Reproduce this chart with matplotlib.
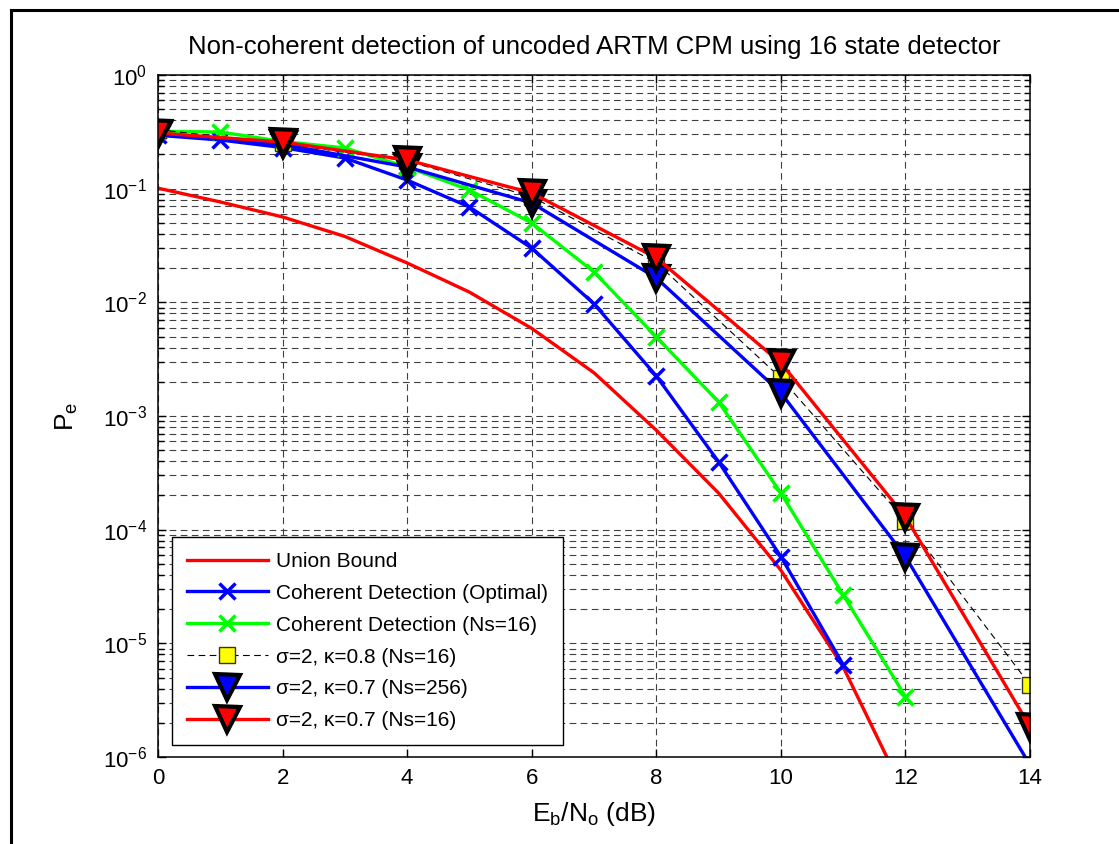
import numpy as np
import matplotlib
matplotlib.use('Agg')
import matplotlib.pyplot as plt
from matplotlib.lines import Line2D

plt.rcParams['font.family'] = ['Liberation Sans', 'DejaVu Sans']
plt.rcParams['mathtext.fontset'] = 'custom'
plt.rcParams['mathtext.rm'] = 'Liberation Sans'
plt.rcParams['mathtext.it'] = 'Liberation Sans'
plt.rcParams['mathtext.bf'] = 'Liberation Sans:bold'
plt.rcParams['axes.unicode_minus'] = False

# Eb/No (dB) grids used by each curve
eb_union = [0, 1, 2, 3, 4, 5, 6, 7, 8, 9, 10, 11, 12]
eb_opt = [0, 1, 2, 3, 4, 5, 6, 7, 8, 9, 10, 11]
eb_ns16 = [0, 1, 2, 3, 4, 5, 6, 7, 8, 9, 10, 11, 12]
eb_even = [0, 2, 4, 6, 8, 10, 12, 14]

# error probabilities
pe_union = [0.101, 0.0764, 0.0564, 0.038, 0.0222, 0.0123, 0.0059, 0.0024,
            7.5e-4, 2.1e-4, 4.4e-5, 6.2e-6, 4.6e-7]
pe_opt = [0.295, 0.268, 0.23, 0.186, 0.119, 0.069, 0.030, 0.0097,
          2.25e-3, 3.95e-4, 5.8e-5, 6.5e-6]
pe_ns16 = [0.32, 0.315, 0.26, 0.228, 0.155, 0.0974, 0.0499, 0.0185,
           4.97e-3, 1.33e-3, 2.1e-4, 2.67e-5, 3.4e-6]
pe_k08 = [0.33, 0.25, 0.175, 0.085, 0.0223, 2.16e-3, 1.2e-4, 4.3e-6]
pe_k07_256 = [0.30, 0.245, 0.155, 0.0748, 0.0164, 1.6e-3, 5.8e-5, 8.5e-7]
pe_k07_16 = [0.309, 0.257, 0.179, 0.0917, 0.0246, 2.93e-3, 1.3e-4, 1.85e-6]

labels = ['Union Bound',
          'Coherent Detection (Optimal)',
          'Coherent Detection (Ns=16)',
          'σ=2, κ=0.8 (Ns=16)',
          'σ=2, κ=0.7 (Ns=256)',
          'σ=2, κ=0.7 (Ns=16)']

ymin, ymax = 1e-6, 1.0

fig = plt.figure(figsize=(11.19, 8.44), dpi=100)
ax = fig.add_axes([158 / 1119, 1 - 757 / 844, 872 / 1119, 682 / 844])

def visible(y):
    # matlab does not draw markers that fall outside the axes
    return [i for i, v in enumerate(y) if ymin <= v <= ymax]

lw = 2.4
ax.plot(eb_union, pe_union, color='#ff0000', lw=lw, label=labels[0])
ax.plot(eb_opt, pe_opt, color='#0000ff', lw=lw, marker='x', ms=12, mew=2.5,
        label=labels[1])
ax.plot(eb_ns16, pe_ns16, color='#00ff00', lw=lw, marker='x', ms=12, mew=2.5,
        label=labels[2])
ax.plot(eb_even, pe_k08, color='k', lw=0.8, ls=(0, (6, 4)), marker='s', ms=12,
        mfc='#ffff00', mec='#333333', mew=1, label=labels[3])
ax.plot(eb_even, pe_k07_256, color='#0000ff', lw=lw, marker='v', ms=18,
        mfc='#0000ff', mec='k', mew=3, markevery=visible(pe_k07_256),
        label=labels[4])
ax.plot(eb_even, pe_k07_16, color='#ff0000', lw=lw, marker='v', ms=18,
        mfc='#ff0000', mec='k', mew=3, markevery=visible(pe_k07_16),
        label=labels[5])

ax.set_yscale('log')
ax.set_xlim(0, 14)
ax.set_ylim(ymin, ymax)
ax.set_xticks(np.arange(0, 15, 2))
ax.grid(True, which='major', color='0.25', lw=0.8, ls=(0, (6, 4)))
ax.grid(True, which='minor', axis='y', color='0.25', lw=0.8, ls=(0, (6, 4)))
ax.tick_params(which='both', direction='in', top=True, right=True, labelsize=16,
               width=1)
ax.tick_params(which='major', length=6, pad=8)
ax.tick_params(which='minor', length=4)
for s in ax.spines.values():
    s.set_linewidth(1.1)

ax.set_title('Non-coherent detection of uncoded ARTM CPM using 16 state detector',
             fontsize=18.5, pad=15)
ax.set_xlabel(r'E$_{\rm b}$/N$_{\rm o}$ (dB)', fontsize=19, labelpad=8)
ax.set_ylabel(r'P$_{\rm e}$', fontsize=19, labelpad=16)

leg = ax.legend(loc='lower left', bbox_to_anchor=(14 / 872, 12 / 682),
                borderaxespad=0, fontsize=15, handlelength=3.9,
                handletextpad=0.4, labelspacing=0.62, borderpad=0.7,
                fancybox=False, framealpha=1)
leg.get_frame().set_edgecolor('k')
leg.get_frame().set_linewidth(1)

# figure frame (left and top edges are visible in the export)
fig.add_artist(Line2D([11 / 1119, 11 / 1119], [0, 1 - 10 / 844], color='k', lw=2.2))
fig.add_artist(Line2D([11 / 1119, 1], [1 - 10 / 844, 1 - 10 / 844], color='k', lw=2.2))

fig.savefig('out.png', dpi=100)
